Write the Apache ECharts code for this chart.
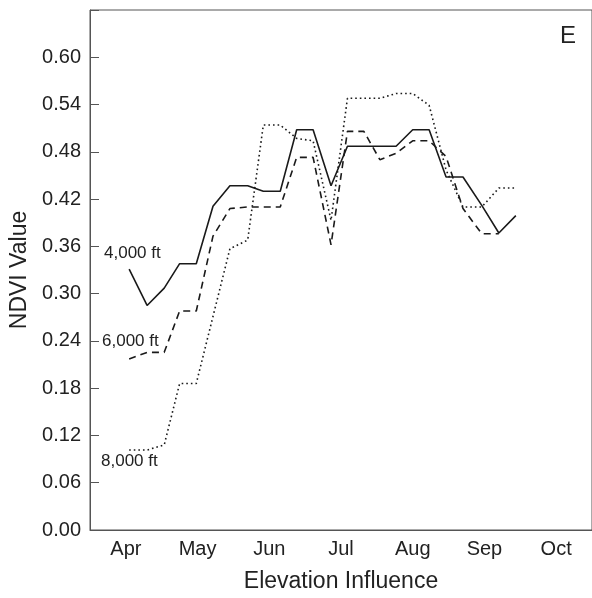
<!DOCTYPE html>
<html><head><meta charset="utf-8">
<script src="https://cdn.jsdelivr.net/npm/echarts@6/dist/echarts.min.js"></script>
<style>html,body{margin:0;padding:0;background:#fff}#c{width:592px;height:598px}</style>
</head><body><div id="c"></div>
<script>
// Month categories (x axis labels)
const months = ['Apr', 'May', 'Jun', 'Jul', 'Aug', 'Sep', 'Oct'];
// Observation positions in month units (0 = start of Apr)
const weekPos = [0.546, 0.796, 1.035, 1.250, 1.482, 1.715, 1.951, 2.199, 2.417, 2.653, 2.882, 3.111,
                 3.361, 3.590, 3.819, 4.042, 4.268, 4.500, 4.729, 4.965, 5.201, 5.463, 5.701, 5.938];
// NDVI values
const ft4000 = [0.331, 0.285, 0.307, 0.338, 0.338, 0.411, 0.437, 0.437, 0.430, 0.430, 0.508, 0.508,
                0.437, 0.487, 0.487, 0.487, 0.487, 0.508, 0.508, 0.448, 0.448, 0.412, 0.377, 0.399];
const ft6000 = [0.217, 0.2255, 0.2255, 0.278, 0.278, 0.373, 0.408, 0.410, 0.410, 0.410, 0.473, 0.473,
                0.362, 0.506, 0.506, 0.470, 0.478, 0.494, 0.494, 0.474, 0.408, 0.376, 0.376, null];
const ft8000 = [0.1015, 0.1015, 0.108, 0.186, 0.186, 0.271, 0.357, 0.368, 0.514, 0.514, 0.497, 0.494,
                0.393, 0.548, 0.548, 0.548, 0.554, 0.554, 0.539, 0.457, 0.410, 0.410, 0.434, 0.434];
const seriesNames = ['4,000 ft', '6,000 ft', '8,000 ft'];
const yMin = 0, yMax = 0.66, yStep = 0.06;

const FONT = 'Liberation Sans, Arial, Helvetica, sans-serif';
const INK = '#222';
const FRAME = '#555';

function pairs(vals) {
  const out = [];
  vals.forEach((v, i) => { if (v !== null) out.push([weekPos[i], v]); });
  return out;
}

const chart = echarts.init(document.getElementById('c'), null, {renderer: 'canvas'});
chart.setOption({
  animation: false,
  backgroundColor: '#fff',
  grid: {left: 90, top: 10, right: -2, bottom: 68, show: true, borderColor: FRAME, borderWidth: 1, backgroundColor: 'transparent'},
  xAxis: [{
    type: 'category', data: months, boundaryGap: true,
    name: 'Elevation Influence', nameLocation: 'middle', nameGap: 40,
    nameTextStyle: {fontFamily: FONT, fontSize: 23, color: INK},
    axisLine: {lineStyle: {color: FRAME, width: 1}},
    axisTick: {inside: true, length: 9, lineStyle: {color: FRAME}},
    axisLabel: {fontFamily: FONT, fontSize: 20, color: INK, margin: 9},
    splitLine: {show: false}
  }, {
    type: 'value', min: 0, max: months.length, show: false
  }],
  yAxis: {
    type: 'value', min: yMin, max: yMax, interval: yStep,
    name: 'NDVI Value', nameLocation: 'middle', nameGap: 56, nameRotate: 90,
    nameTextStyle: {fontFamily: FONT, fontSize: 23, color: INK},
    axisLine: {show: true, lineStyle: {color: FRAME, width: 1}},
    axisTick: {show: true, inside: true, length: 9, lineStyle: {color: FRAME}},
    axisLabel: {fontFamily: FONT, fontSize: 20, color: INK, margin: 9,
      formatter: v => (Math.abs(v - yMax) < 1e-9 ? '' : v.toFixed(2))},
    splitLine: {show: false}
  },
  series: [
    {name: seriesNames[0], type: 'line', xAxisIndex: 1, data: pairs(ft4000), symbol: 'none',
     lineStyle: {color: '#1a1a1a', width: 1.6, type: 'solid'}},
    {name: seriesNames[1], type: 'line', xAxisIndex: 1, data: pairs(ft6000), symbol: 'none',
     lineStyle: {color: '#1a1a1a', width: 1.6, type: [7, 5]}},
    {name: seriesNames[2], type: 'line', xAxisIndex: 1, data: pairs(ft8000), symbol: 'none',
     lineStyle: {color: '#1a1a1a', width: 1.6, type: [1.6, 3]}}
  ],
  graphic: [
    {type: 'text', left: 104, top: 245, style: {text: seriesNames[0], font: '17px ' + FONT, fill: INK}},
    {type: 'text', left: 102, top: 333, style: {text: seriesNames[1], font: '17px ' + FONT, fill: INK}},
    {type: 'text', left: 101, top: 453, style: {text: seriesNames[2], font: '17px ' + FONT, fill: INK}},
    {type: 'text', left: 560, top: 24, style: {text: 'E', font: '24px ' + FONT, fill: INK}}
  ]
});
</script>
</body></html>
